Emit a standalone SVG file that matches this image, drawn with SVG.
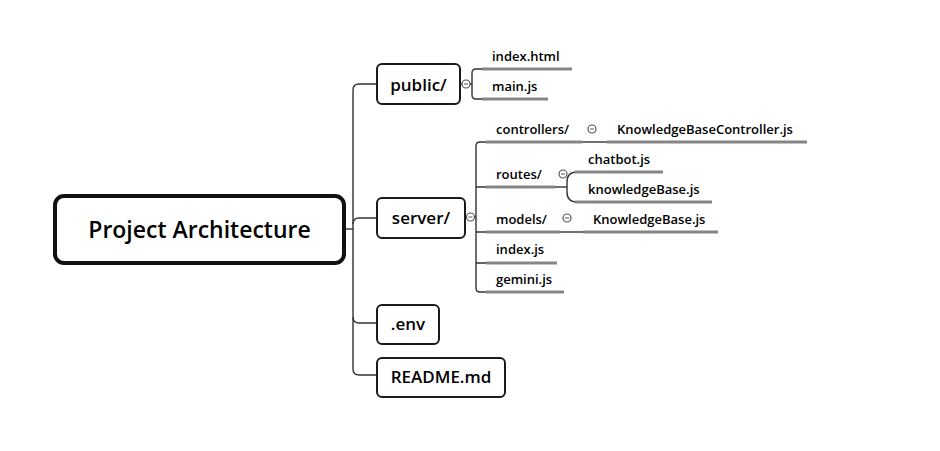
<svg xmlns="http://www.w3.org/2000/svg" width="940" height="451" viewBox="0 0 940 451">
<style>
.box{fill:#fff;stroke:#1a1a1a;stroke-width:2}
.root{fill:#fff;stroke:#111;stroke-width:4}
.t{font-family:"Open Sans","Liberation Sans",sans-serif;font-weight:600;fill:#000}
.tb{font-size:17px;text-anchor:middle}
.tc{font-size:13px}
.ln{fill:none;stroke:#333;stroke-width:1.4}
.ul{fill:none;stroke:#858585;stroke-width:3}
.cc{fill:#fff;stroke:#555;stroke-width:1.2}
.cm{stroke:#555;stroke-width:1}
</style>
<rect width="940" height="451" fill="#fff"/>
<g id="connectors">
  <path class="ln" d="M344,229 H353"/>
  <path class="ln" d="M377,84 H359 Q353,84 353,90 V369 Q353,375 359,375 H377"/>
  <path class="ln" d="M353,224 Q353,218 359,218 H377"/>
  <path class="ln" d="M353,317 Q353,323 359,323 H377"/>
  <path class="ln" d="M460,84 H472"/>
  <path class="ln" d="M482,69 H476 Q472,69 472,73 V95 Q472,99 476,99 H482"/>
  <path class="ul" d="M482,69 H572"/>
  <path class="ul" d="M482,99 H548"/>
  <path class="ln" d="M465,217 H476"/>
  <path class="ln" d="M486,142 H480 Q476,142 476,146 V288 Q476,292 480,292 H486"/>
  <path class="ln" d="M476,187 H486 M476,232 H486 M476,263 H486"/>
  <path class="ul" d="M486,142 H582"/>
  <path class="ul" d="M486,187 H555"/>
  <path class="ul" d="M486,232 H560"/>
  <path class="ul" d="M486,263 H557"/>
  <path class="ul" d="M486,292 H564"/>
  <path class="ln" d="M582,142 H607"/>
  <path class="ul" d="M607,142 H807"/>
  <path class="ln" d="M555,187 H567"/>
  <path class="ln" d="M577,172 Q567,172 567,182 V192 Q567,202 577,202"/>
  <path class="ul" d="M575,172 H663"/>
  <path class="ul" d="M575,202 H712"/>
  <path class="ln" d="M560,232 H583"/>
  <path class="ul" d="M583,232 H718"/>
</g>
<g id="root">
  <rect class="root" x="55" y="196" width="289" height="67" rx="9"/>
  <text class="t" x="199.5" y="238" font-size="23" text-anchor="middle">Project Architecture</text>
</g>
<g id="public">
  <rect class="box" x="377" y="64" width="83" height="40" rx="5"/>
  <text class="t tb" x="418.5" y="91">public/</text>
  <circle class="cc" cx="466" cy="84" r="4"/><path class="cm" d="M464,84 H468"/>
</g>
<g id="index-html"><text class="t tc" x="492" y="61">index.html</text></g>
<g id="main-js"><text class="t tc" x="492" y="91">main.js</text></g>
<g id="server">
  <rect class="box" x="377" y="198" width="88" height="40" rx="5"/>
  <text class="t tb" x="421" y="224">server/</text>
  <circle class="cc" cx="470.5" cy="217" r="4"/><path class="cm" d="M468.5,217 H472.5"/>
</g>
<g id="controllers">
  <text class="t tc" x="496" y="134">controllers/</text>
  <circle class="cc" cx="592" cy="129" r="4"/><path class="cm" d="M590,129 H594"/>
</g>
<g id="kbcontroller"><text class="t tc" x="617" y="134">KnowledgeBaseController.js</text></g>
<g id="routes">
  <text class="t tc" x="496" y="179">routes/</text>
  <circle class="cc" cx="563" cy="174" r="4"/><path class="cm" d="M561,174 H565"/>
</g>
<g id="chatbot"><text class="t tc" x="588" y="164">chatbot.js</text></g>
<g id="knowledgebase-route"><text class="t tc" x="588" y="194">knowledgeBase.js</text></g>
<g id="models">
  <text class="t tc" x="496" y="224">models/</text>
  <circle class="cc" cx="567" cy="218" r="4"/><path class="cm" d="M565,218 H569"/>
</g>
<g id="knowledgebase-model"><text class="t tc" x="593" y="224">KnowledgeBase.js</text></g>
<g id="index-js"><text class="t tc" x="496" y="254">index.js</text></g>
<g id="gemini-js"><text class="t tc" x="496" y="284">gemini.js</text></g>
<g id="env">
  <rect class="box" x="377" y="305" width="62" height="39" rx="5"/>
  <text class="t tb" x="408" y="330">.env</text>
</g>
<g id="readme">
  <rect class="box" x="377" y="358" width="128" height="39" rx="5"/>
  <text class="t tb" x="441" y="383">README.md</text>
</g>
</svg>
